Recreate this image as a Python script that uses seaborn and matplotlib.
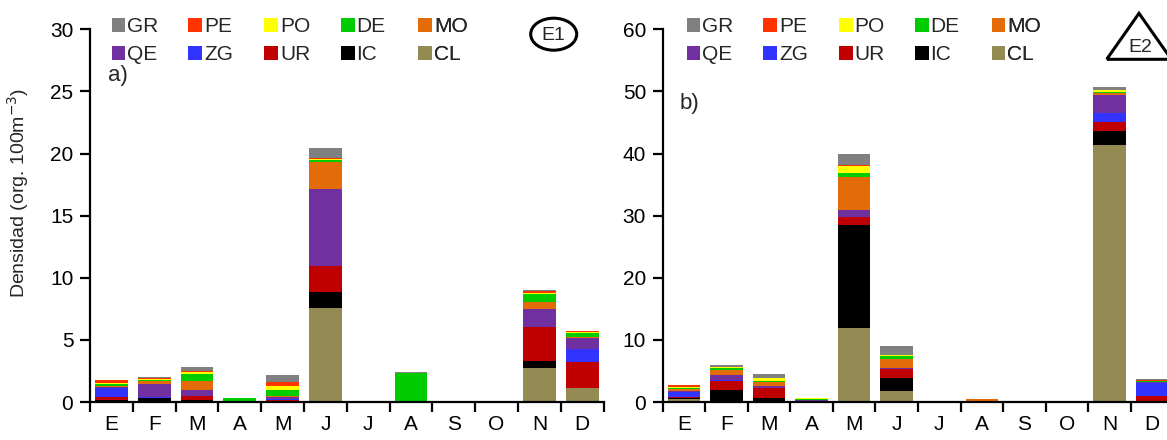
import matplotlib
matplotlib.use("Agg")
import matplotlib.pyplot as plt
import matplotlib.patches as mpatches
import numpy as np
import pandas as pd
import seaborn as sns

months = ['E', 'F', 'M', 'A', 'M', 'J', 'J', 'A', 'S', 'O', 'N', 'D']
# stacking order bottom -> top
groups = ['CL', 'IC', 'UR', 'ZG', 'QE', 'MO', 'DE', 'PO', 'PE', 'GR']
colors = {'GR': '#808080', 'PE': '#FF3300', 'PO': '#FFFF00', 'DE': '#00CC00',
          'MO': '#E36C09', 'QE': '#7030A0', 'ZG': '#3333FF', 'UR': '#C00000',
          'IC': '#000000', 'CL': '#948A54'}
legend_rows = [['GR', 'PE', 'PO', 'DE', 'MO'], ['QE', 'ZG', 'UR', 'IC', 'CL']]

# Station E1 (panel a)
e1_CL = [0.10, 0.00, 0.00, 0.00, 0.00, 7.55, 0, 0.00, 0, 0, 2.75, 1.10]
e1_IC = [0.10, 0.35, 0.20, 0.00, 0.10, 1.30, 0, 0.00, 0, 0, 0.55, 0.05]
e1_UR = [0.22, 0.00, 0.25, 0.05, 0.08, 2.10, 0, 0.00, 0, 0, 2.70, 2.05]
e1_ZG = [0.73, 0.03, 0.03, 0.00, 0.05, 0.00, 0, 0.00, 0, 0, 0.05, 1.10]
e1_QE = [0.05, 1.07, 0.45, 0.00, 0.15, 6.20, 0, 0.00, 0, 0, 1.45, 0.85]
e1_MO = [0.12, 0.22, 0.73, 0.03, 0.12, 2.20, 0, 0.00, 0, 0, 0.55, 0.10]
e1_DE = [0.10, 0.10, 0.62, 0.25, 0.45, 0.12, 0, 2.30, 0, 0, 0.65, 0.30]
e1_PO = [0.08, 0.08, 0.15, 0.00, 0.32, 0.05, 0, 0.00, 0, 0, 0.10, 0.05]
e1_PE = [0.25, 0.05, 0.10, 0.00, 0.38, 0.13, 0, 0.00, 0, 0, 0.10, 0.10]
e1_GR = [0.05, 0.10, 0.32, 0.03, 0.56, 0.78, 0, 0.10, 0, 0, 0.10, 0.05]

# Station E2 (panel b)
e2_CL = [0.43, 0.00, 0.00, 0.05, 11.90, 1.72, 0, 0.00, 0, 0, 41.35, 0.10]
e2_IC = [0.20, 2.00, 0.70, 0.10, 16.55, 2.15, 0, 0.00, 0, 0, 2.25, 0.00]
e2_UR = [0.10, 1.40, 1.55, 0.00, 1.35, 1.40, 0, 0.00, 0, 0, 1.55, 0.90]
e2_ZG = [0.80, 0.10, 0.05, 0.05, 0.00, 0.00, 0, 0.00, 0, 0, 1.40, 2.00]
e2_QE = [0.20, 0.85, 0.30, 0.10, 1.10, 0.20, 0, 0.00, 0, 0, 2.80, 0.20]
e2_MO = [0.30, 0.80, 0.65, 0.00, 5.35, 1.40, 0, 0.45, 0, 0, 0.45, 0.10]
e2_DE = [0.30, 0.35, 0.15, 0.15, 0.65, 0.60, 0, 0.00, 0, 0, 0.15, 0.05]
e2_PO = [0.15, 0.15, 0.45, 0.15, 1.10, 0.05, 0, 0.00, 0, 0, 0.25, 0.10]
e2_PE = [0.20, 0.05, 0.05, 0.00, 0.10, 0.00, 0, 0.00, 0, 0, 0.10, 0.05]
e2_GR = [0.05, 0.20, 0.60, 0.05, 1.90, 1.55, 0, 0.10, 0, 0, 0.45, 0.15]

e1 = {'CL': e1_CL, 'IC': e1_IC, 'UR': e1_UR, 'ZG': e1_ZG, 'QE': e1_QE,
      'MO': e1_MO, 'DE': e1_DE, 'PO': e1_PO, 'PE': e1_PE, 'GR': e1_GR}
e2 = {'CL': e2_CL, 'IC': e2_IC, 'UR': e2_UR, 'ZG': e2_ZG, 'QE': e2_QE,
      'MO': e2_MO, 'DE': e2_DE, 'PO': e2_PO, 'PE': e2_PE, 'GR': e2_GR}

sns.set_theme(style='ticks')
plt.rcParams['font.family'] = ['Liberation Sans', 'DejaVu Sans']
plt.rcParams['axes.edgecolor'] = 'black'
plt.rcParams['axes.linewidth'] = 1.6

W, H = 1167, 440
fig = plt.figure(figsize=(W / 100, H / 100), dpi=100)

def fx(px):
    return px / W

def fy(py):
    return (H - py) / H

ax1 = fig.add_axes([fx(90), fy(402), fx(513.6), fy(29.3) - fy(402)])
ax2 = fig.add_axes([fx(662.7), fy(402), fx(510.6), fy(29.3) - fy(402)])

def draw(ax, data, ymax, ystep):
    df = pd.DataFrame(data)
    df['idx'] = np.arange(len(months))
    cum = df[groups].cumsum(axis=1)
    # draw from top layer down so each cumulative bar shows its own segment
    for g in groups[::-1]:
        sns.barplot(x=df['idx'], y=cum[g], color=colors[g], width=0.765,
                    saturation=1, linewidth=0, ax=ax, order=list(range(12)))
    ax.set_xlim(-0.5, 11.5)
    ax.set_ylim(0, ymax)
    ax.set_yticks(np.arange(0, ymax + 0.1, ystep))
    ax.set_xticks(np.arange(12))
    ax.set_xticklabels(months)
    ax.set_xticks(np.arange(-0.5, 12, 1), minor=True)
    ax.tick_params(axis='x', which='major', length=0, labelsize=15, pad=9, colors='black')
    ax.tick_params(axis='x', which='minor', length=7, width=1.6, direction='out', color='black')
    ax.tick_params(axis='y', length=7, width=1.6, direction='out', labelsize=15, colors='black', pad=5)
    ax.set_xlabel('')
    ax.set_ylabel('')
    ax.grid(False)
    sns.despine(ax=ax)

draw(ax1, e1, 30, 5)
draw(ax2, e2, 60, 10)

ax1.set_ylabel('Densidad (org. 100m$^{-3}$)', fontsize=14)
ax1.yaxis.set_label_coords(-0.115, 0.56)
ax1.text(fx(108), fy(75), 'a)', transform=fig.transFigure, fontsize=16, va='center')
ax2.text(fx(680), fy(103), 'b)', transform=fig.transFigure, fontsize=16, va='center')

handles = {g: mpatches.Patch(facecolor=colors[g], edgecolor='none') for g in groups}

def legends(ax, xs):
    for c in range(5):
        labs = [legend_rows[0][c], legend_rows[1][c]]
        leg = ax.legend([handles[l] for l in labs], labs, loc='upper left',
                        bbox_to_anchor=(fx(xs[c]), fy(17.5)), bbox_transform=fig.transFigure,
                        frameon=False, fontsize=15, handlelength=0.65, handleheight=0.65,
                        handletextpad=0.1, labelspacing=0.42, borderpad=0, borderaxespad=0)
        ax.add_artist(leg)

legends(ax1, [111.7, 188.3, 264.3, 341, 418.3])
legends(ax2, [686.7, 763.3, 839, 915, 991.7])

# Station markers
ell = mpatches.Ellipse((fx(553.7), fy(34.2)), fx(46), 32 / H, transform=fig.transFigure,
                       fill=False, edgecolor='black', linewidth=2.2)
fig.patches.append(ell)
fig.text(fx(553.7), fy(35), 'E1', ha='center', va='center', fontsize=14)
tri = mpatches.Polygon([(fx(1106.7), fy(59.3)), (fx(1139), fy(13.3)), (fx(1171.3), fy(59.3))],
                       closed=True, fill=False, edgecolor='black', linewidth=2.2,
                       transform=fig.transFigure)
fig.patches.append(tri)
fig.text(fx(1140), fy(47), 'E2', ha='center', va='center', fontsize=14)

fig.savefig('out.png', dpi=100)
